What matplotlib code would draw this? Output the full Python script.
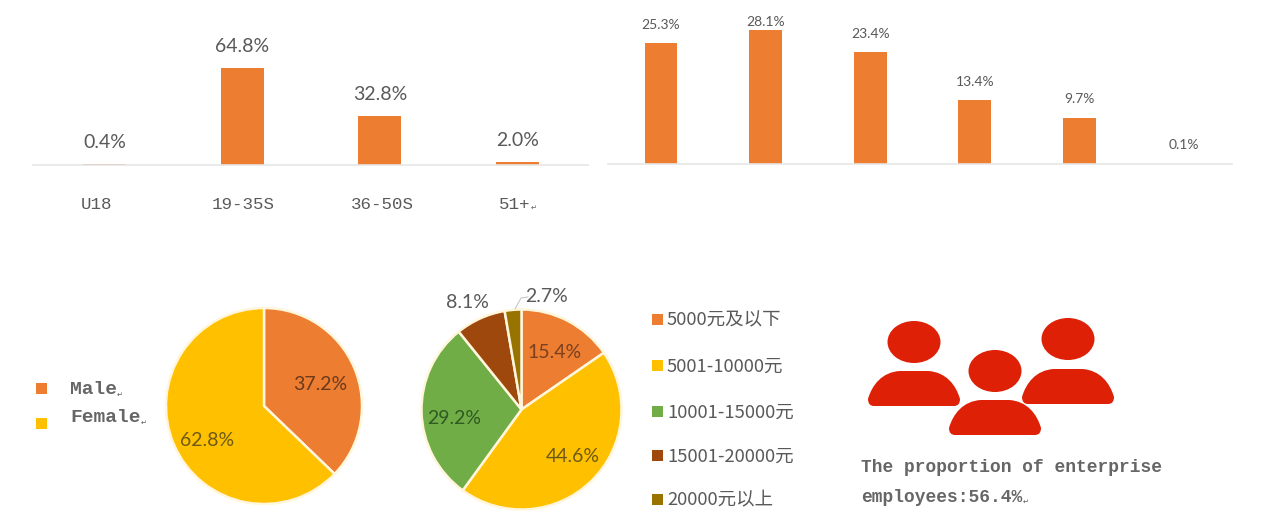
import matplotlib
matplotlib.use('Agg')
import matplotlib.pyplot as plt
from matplotlib.patches import Ellipse, PathPatch, Rectangle
from matplotlib.path import Path
from matplotlib.transforms import ScaledTranslation

W, H = 1269, 520
LABEL_FONT = ['Lato', 'Noto Sans CJK SC', 'DejaVu Sans']
MONO_FONT = ['Liberation Mono', 'DejaVu Sans Mono']
GREY = '#595959'
ORANGE = '#ED7D31'

# Data
age_groups = ['U18', '19-35S', '36-50S', '51+']
age_share = [0.4, 64.8, 32.8, 2.0]
unnamed_share = [25.3, 28.1, 23.4, 13.4, 9.7, 0.1]
gender_names = ['Male', 'Female']
gender_share = [37.2, 62.8]
gender_colors = [ORANGE, '#FFC000']
income_names = ['5000元及以下', '5001-10000元', '10001-15000元', '15001-20000元', '20000元以上']
income_share = [15.4, 44.6, 29.2, 8.1, 2.7]
income_colors = [ORANGE, '#FFC000', '#70AD47', '#9E480E', '#997300']
enterprise_text = ['The proportion of enterprise', 'employees:56.4%']

fig = plt.figure(figsize=(W / 100, H / 100), dpi=100, facecolor='white')

def axes_px(x0, y0, x1, y1):
    # axes from pixel box, y measured from the top of the image
    return fig.add_axes([x0 / W, 1 - y1 / H, (x1 - x0) / W, (y1 - y0) / H])

def bar_chart(box, values, xlim, ymax, width, tick_labels=None):
    ax = axes_px(*box)
    xs = range(len(values))
    ax.bar(xs, values, width=width, color=ORANGE)
    ax.set_xlim(*xlim)
    ax.set_ylim(0, ymax)
    for s in ['top', 'left', 'right']:
        ax.spines[s].set_visible(False)
    ax.spines['bottom'].set_color('#E6E6E6')
    ax.spines['bottom'].set_linewidth(1.2)
    ax.set_yticks([])
    ax.set_xticks(list(xs) if tick_labels else [])
    if tick_labels:
        ax.set_xticklabels(tick_labels, family=MONO_FONT, fontsize=12.6, color=GREY)
        ax.tick_params(axis='x', length=0, pad=23)
    return ax

# Top left bars
ax1 = bar_chart((33, 20, 588, 165), age_share, (-0.518, 3.51), 96.9, 0.312, age_groups)
for i, v in enumerate(age_share):
    ax1.annotate(f'{v}%', (i, v), xytext=(0, 15.5), textcoords='offset points', ha='center', va='center',
                 family=LABEL_FONT, fontsize=14, color=GREY)
# the tick labels sit a little off their bars in the original
for lab, dx in zip(ax1.get_xticklabels(), [-8, 1, 2, -3]):
    lab.set_transform(lab.get_transform() + ScaledTranslation(dx / 100, 0, fig.dpi_scale_trans))
ax1.annotate('↵', xy=(1, 0.25), xycoords=ax1.get_xticklabels()[3], fontsize=5, color=GREY, va='center')

# Top right bars
ax2 = bar_chart((608, 20, 1232, 164), unnamed_share, (-0.507, 5.46), 30.2, 0.315)
for i, v in enumerate(unnamed_share):
    off = 6 if v == max(unnamed_share) else 13.2
    ax2.annotate(f'{v}%', (i, v), xytext=(0, off), textcoords='offset points', ha='center', va='center',
                 family=LABEL_FONT, fontsize=10, color=GREY, annotation_clip=False)

# Pies
def pie_chart(cx, cy, r, values, colors):
    ax = axes_px(cx - r, cy - r, cx + r, cy + r)
    ax.pie(values, colors=colors, startangle=90, counterclock=False, radius=1,
           wedgeprops={'edgecolor': '#FFF6DC', 'linewidth': 1.8}, frame=False)
    ax.set_xlim(-1.0, 1.0)
    ax.set_ylim(-1.0, 1.0)
    for p in ax.patches:
        p.set_clip_on(False)
    return ax

pie_chart(264, 406, 98, gender_share, gender_colors)
pie_chart(521.5, 409.5, 100, income_share, income_colors)

# Overlay for text, legends and the people icon, in image pixels
ov = fig.add_axes([0, 0, 1, 1], facecolor='none')
ov.set_xlim(0, W)
ov.set_ylim(H, 0)
ov.axis('off')

gender_label_pos = [(320, 385), (207, 440)]
for v, (x, y), c in zip(gender_share, gender_label_pos, ['#6B3A1C', '#6E5A14']):
    ov.text(x, y, f'{v}%', ha='center', va='center', family=LABEL_FONT, fontsize=14, color=c)

income_label_pos = [(555, 352), (573, 456), (454, 418), (467, 303), (547, 297)]
income_label_col = ['#7A4020', '#6E5A14', '#2F5A22', GREY, GREY]
for v, (x, y), c in zip(income_share, income_label_pos, income_label_col):
    ov.text(x, y, f'{v}%', ha='center', va='center', family=LABEL_FONT, fontsize=14, color=c)
ov.plot([515, 521, 528], [309, 298, 297], color='#C8C8C8', lw=0.8)

# Legends
for name, y_box, y_txt, c in zip(gender_names, [388, 423], [390, 418], gender_colors):
    ov.add_patch(Rectangle((36, y_box - 5.5), 11, 11, color=c, lw=0))
    t = ov.text(70, y_txt, name, va='center', family=MONO_FONT, fontsize=14, color='#666666', weight='bold')
    ov.annotate('↵', xy=(1, 0.2), xycoords=t, fontsize=5, color=GREY, va='center')

for name, y, c in zip(income_names, [319, 365, 411, 455, 499], income_colors):
    ov.add_patch(Rectangle((652, y - 5.5), 11, 11, color=c, lw=0))
    ov.text(667, y + 1.5, name, va='center', family=['Noto Sans CJK SC', 'DejaVu Sans'], fontsize=13.3, color=GREY)

# People icon
RED = '#DE2006'

def person(cx, head_y, t, b):
    ov.add_patch(Ellipse((cx, head_y), 53, 42, color=RED, lw=0))
    l, r = cx - 46, cx + 46
    verts = [(l, b - 7), (l + 4, t + 14), (l + 14, t + 1), (l + 32, t),
             (r - 32, t),
             (r - 14, t + 1), (r - 4, t + 14), (r, b - 7),
             (r, b), (r - 6, b),
             (l + 6, b),
             (l, b), (l, b - 7),
             (l, b - 7)]
    codes = [Path.MOVETO, Path.CURVE4, Path.CURVE4, Path.CURVE4,
             Path.LINETO,
             Path.CURVE4, Path.CURVE4, Path.CURVE4,
             Path.CURVE3, Path.CURVE3,
             Path.LINETO,
             Path.CURVE3, Path.CURVE3,
             Path.CLOSEPOLY]
    ov.add_patch(PathPatch(Path(verts, codes), facecolor=RED, edgecolor='none'))

person(914, 342, 371, 406)
person(1068, 339, 369, 404)
person(995, 371, 400, 435)

for line, y in zip(enterprise_text, [468, 497]):
    t = ov.text(861, y, line, va='center', family=MONO_FONT, fontsize=12.9, color='#666666', weight='bold')
ov.annotate('↵', xy=(1, 0.2), xycoords=t, fontsize=5, color=GREY, va='center')

fig.savefig('out.png', dpi=100, facecolor='white')
